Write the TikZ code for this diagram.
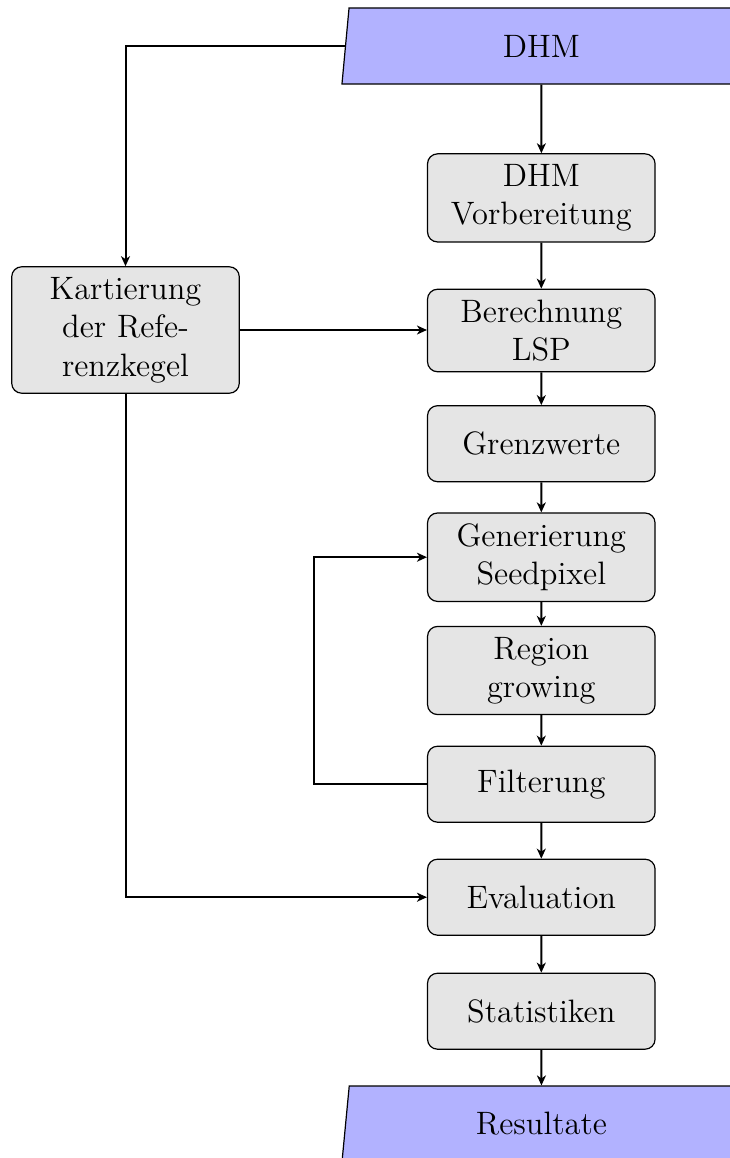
\documentclass[tikz,border=0pt]{standalone}
\usetikzlibrary{shapes.geometric,arrows.meta}
\begin{document}
\begin{tikzpicture}[x=0.37037pt,y=-0.37037pt,scale=2.7,
  every node/.style={transform shape,font=\fontsize{12}{14.2}\selectfont,outer sep=0.22pt},
  process/.style={draw=black,line width=1.2pt,fill=gray!20,rounded corners=10pt,
    minimum width=84.26pt,minimum height=28.15pt,text width=76.5pt,align=center,inner sep=3.89pt},
  io/.style={trapezium,trapezium left angle=80,trapezium right angle=100,trapezium stretches body=true,
    draw=black,line width=1.2pt,fill=blue!30,minimum width=147.8pt,minimum height=28.15pt},
  flow/.style={line width=2pt,-{Stealth[length=10pt,width=9pt,inset=3pt]}}
]
\useasboundingbox (0,0) rectangle (730,1158);
\clip (0,0) rectangle (730,1158);

% main column
\node[io]      (dhm)  at (541.5,46)    {DHM};
\node[process] (prep) at (541.3,197.9) {DHM\\Vorbereitung};
\node[process] (lsp)  at (541.3,330.5) {Berechnung\\LSP};
\node[process] (grenz) at (541.3,443.7) {Grenzwerte};
\node[process] (seed) at (541.3,557.2) {Generierung\\Seedpixel};
\node[process] (grow) at (541.3,670.5) {Region\\growing};
\node[process] (filt) at (541.3,784.2) {Filterung};
\node[process] (eval) at (541.3,897.2) {Evaluation};
\node[process] (stat) at (541.3,1011.2) {Statistiken};
\node[io]      (res)  at (541.5,1124)  {Resultate};

% reference mapping
\node[process] (kart) at (125.5,330) {Kartierung\\der Refe-\\renzkegel};

\coordinate (loopx) at (314,0);

\draw[flow] (dhm) -- (prep);
\draw[flow] (prep) -- (lsp);
\draw[flow] (lsp) -- (grenz);
\draw[flow] (grenz) -- (seed);
\draw[flow] (seed) -- (grow);
\draw[flow] (grow) -- (filt);
\draw[flow] (filt) -- (eval);
\draw[flow] (eval) -- (stat);
\draw[flow] (stat) -- (res);

\draw[flow] (dhm.west) -| (kart.north);
\draw[flow] (kart.east) -- (kart.east -| lsp.west);
\draw[flow] (kart.south) |- (eval.west);
\draw[flow] (filt.west) -- (filt.west -| loopx) |- (seed.west);
\end{tikzpicture}
\end{document}
